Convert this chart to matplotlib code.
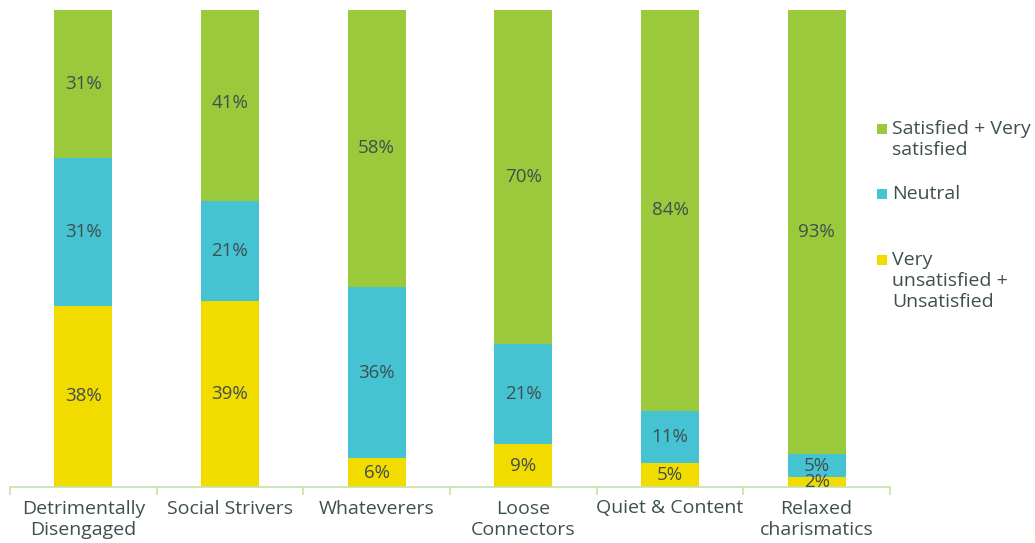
import matplotlib
matplotlib.use("Agg")
import matplotlib.pyplot as plt
from matplotlib.patches import Rectangle
import numpy as np

categories = ["Detrimentally\nDisengaged", "Social Strivers", "Whateverers",
              "Loose\nConnectors", "Quiet & Content", "Relaxed\ncharismatics"]
unsatisfied = [38, 39, 6, 9, 5, 2]
neutral = [31, 21, 36, 21, 11, 5]
satisfied = [31, 41, 58, 70, 84, 93]

series_names = ["Very\nunsatisfied +\nUnsatisfied", "Neutral", "Satisfied + Very\nsatisfied"]
colors = ["#F2DC00", "#45C3D3", "#9ACA3C"]
text_color = "#3F4F4F"
axis_color = "#C5E3A5"

plt.rcParams['font.family'] = ['Open Sans', 'DejaVu Sans']

fig = plt.figure(figsize=(10.35, 5.43), dpi=100)
ax = fig.add_axes([10/1035, 1 - 487/543, 880/1035, 477/543])

x = np.arange(len(categories))
width = 0.395
bottom = np.zeros(len(categories))
for vals, col in zip([unsatisfied, neutral, satisfied], colors):
    vals = np.array(vals, dtype=float)
    ax.bar(x, vals, width, bottom=bottom, color=col, edgecolor='none')
    for xi, b, v in zip(x, bottom, vals):
        ax.text(xi, b + v / 2, f"{int(v)}%", ha='center', va='center',
                fontsize=13.5, color=text_color)
    bottom += vals

ax.set_xlim(-0.5, len(categories) - 0.5)
ax.set_ylim(0, 100)
for s in ['top', 'right', 'left']:
    ax.spines[s].set_visible(False)
ax.spines['bottom'].set_color(axis_color)
ax.spines['bottom'].set_linewidth(1.2)
ax.set_yticks([])
ax.set_xticks(x)
ax.set_xticklabels(categories, fontsize=14, color=text_color, linespacing=1.22)
ax.tick_params(axis='x', length=0, pad=9)
ax.set_xticks(np.arange(-0.5, len(categories)), minor=True)
ax.tick_params(axis='x', which='minor', length=6, color=axis_color, width=1.2)

# legend drawn manually
leg_items = [(series_names[2], colors[2], 129),
             (series_names[1], colors[1], 194),
             (series_names[0], colors[0], 260)]
for label, col, ypx in leg_items:
    fig.patches.append(Rectangle((877/1035, 1 - (ypx + 5)/543), 10/1035, 10/543,
                                 transform=fig.transFigure, facecolor=col,
                                 edgecolor='none'))
    fig.text(892/1035, 1 - (ypx - 9)/543, label, ha='left', va='top',
             fontsize=14, color=text_color, linespacing=1.2)

fig.savefig("out.png", dpi=100)
